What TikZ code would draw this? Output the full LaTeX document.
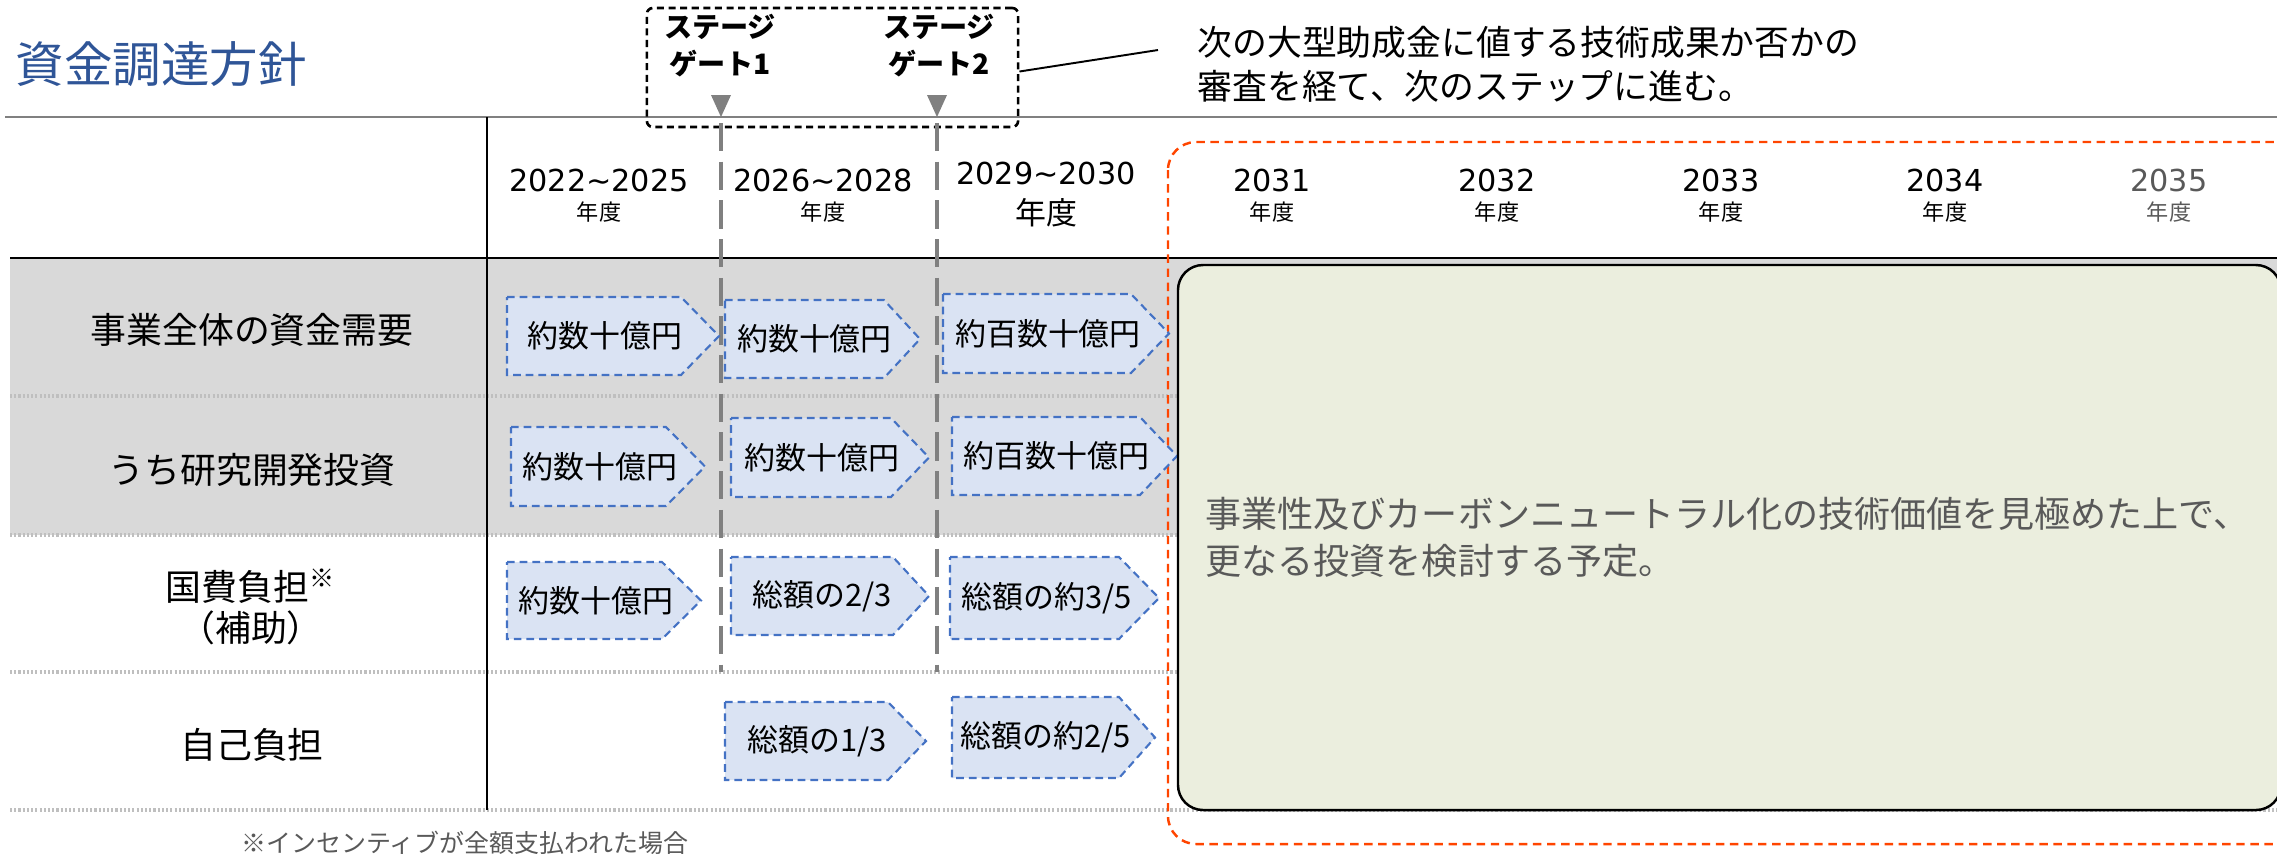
\documentclass[tikz,border=0pt]{standalone}
\usepackage{fontspec}
\setmainfont{Noto Sans CJK JP}
\newfontfamily\digitfont{DejaVu Sans}
\usetikzlibrary{calc}
\definecolor{titleblue}{RGB}{47,85,151}
\definecolor{chevfill}{RGB}{218,227,243}
\definecolor{chevline}{RGB}{68,114,196}
\definecolor{bandgray}{RGB}{217,217,217}
\definecolor{greenfill}{RGB}{235,238,222}
\definecolor{redline}{RGB}{255,69,0}
\definecolor{txtgray}{RGB}{89,89,89}
\definecolor{linegray}{RGB}{128,128,128}
\definecolor{dotgray}{RGB}{191,191,191}
\newcommand\fsz[2]{\fontsize{#1}{#2}\selectfont}
% #1 name, #2 left, #3 shoulder, #4 tip, #5 top, #6 bottom, #7 text
\newcommand\mychev[7]{%
  \draw[chevbox] (#2,#5) -- (#3,#5) -- (#4,{(#5+#6)/2}) -- (#3,#6) -- (#2,#6) -- cycle;
  \node[chevtxt] (#1) at ({(#2+#4)/2-8},{(#5+#6)/2}) {#7};}
\tikzset{
  chevbox/.style={draw=chevline, fill=chevfill, line width=0.6pt, dash pattern=on 2.2pt off 1.4pt},
  chevtxt/.style={inner sep=0pt, font=\fsz{8.8pt}{10pt}},
  rowlabel/.style={inner sep=0pt, font=\fsz{10.2pt}{11.7pt}, align=center},
  yr/.style={inner sep=0pt, font=\digitfont\fsz{8.6pt}{10pt}},
  nendo/.style={inner sep=0pt, font=\fsz{6.3pt}{7pt}},
  gatelabel/.style={inner sep=0pt, font=\bfseries\fsz{8pt}{10.5pt}, align=center},
  gateline/.style={draw=linegray, line width=1.1pt, dash pattern=on 8pt off 3pt},
  sepline/.style={draw=dotgray, line width=0.9pt, dash pattern=on 0.6pt off 0.6pt},
  gatebox/.style={draw, line width=0.75pt, dash pattern=on 2pt off 1.3pt, rounded corners=0.06cm,
    minimum width=3.71cm, minimum height=1.19cm, inner sep=0pt},
}
\begin{document}
\begin{tikzpicture}[x=0.01cm, y=-0.01cm]
\useasboundingbox (0,0) rectangle (2277,853);
% gray band
\fill[bandgray] (10,258) rectangle (2290,535);
% dotted separators
\foreach \yy in {396,535,672,810} \draw[sepline] (10,\yy) -- (2290,\yy);
% header lines
\draw[linegray, line width=0.7pt] (5,117) -- (2290,117);
\draw[line width=0.8pt] (10,258) -- (2290,258);
\draw[line width=0.6pt] (487,117) -- (487,810);
% title
\node[anchor=west, inner sep=0pt, text=titleblue, font=\fsz{13.8pt}{15pt}] (title) at (15,64) {資金調達方針};
% stage gates
\node[gatebox] (gates) at (832.5,67.5) {};
\node[gatelabel] (g1lab) at (720,46) {ステージ\\ゲート1};
\node[gatelabel] (g2lab) at (939,46) {ステージ\\ゲート2};
\coordinate (g1) at (721,117);
\coordinate (g2) at (937,117);
\fill[linegray] (711,95) -- (731,95) -- (g1) -- cycle;
\fill[linegray] (927,95) -- (947,95) -- (g2) -- cycle;
\draw[gateline] (721,123) -- (721,672);
\draw[gateline] (937,123) -- (937,672);
\coordinate (callout) at (1158,50);
\draw[line width=0.55pt] (gates.east) ++(0,4) -- (callout);
\node[anchor=west, inner sep=0pt, align=left, font=\fsz{9.9pt}{12.5pt}] (note) at (1197,64)
  {次の大型助成金に値する技術成果か否かの\\審査を経て、次のステップに進む。};
% red dashed region
\draw[redline, line width=0.7pt, dash pattern=on 2.4pt off 1.6pt, rounded corners=0.28cm] (1168,142) rectangle (2310,844);
% header years
\node[yr] (y1) at (599,180) {2022\textasciitilde2025};
\node[nendo] (n1) at (599,212) {年度};
\node[yr] (y2) at (823,180) {2026\textasciitilde2028};
\node[nendo] (n2) at (823,212) {年度};
\node[yr] (y3) at (1046,173) {2029\textasciitilde2030};
\node[inner sep=0pt, font=\fsz{8.8pt}{10pt}] (n3) at (1046,213) {年度};
\node[yr] (y4) at (1272,180) {2031};
\node[nendo] (n4) at (1272,212) {年度};
\node[yr] (y5) at (1497,180) {2032};
\node[nendo] (n5) at (1497,212) {年度};
\node[yr] (y6) at (1721,180) {2033};
\node[nendo] (n6) at (1721,212) {年度};
\node[yr] (y7) at (1945,180) {2034};
\node[nendo] (n7) at (1945,212) {年度};
\node[yr, text=txtgray] (y8) at (2169,180) {2035};
\node[nendo, text=txtgray] (n8) at (2169,212) {年度};
% row labels
\node[rowlabel] (r1) at (252,330) {事業全体の資金需要};
\node[rowlabel] (r2) at (252,470) {うち研究開発投資};
\node[rowlabel] (r3) at (251,607) {国費負担\textsuperscript{※}\\（補助）};
\node[rowlabel] (r4) at (252,745) {自己負担};
% chevrons
\mychev{a1}{507}{681}{719}{297}{375}{約数十億円}
\mychev{b1}{725}{884}{920}{300}{378}{約数十億円}
\mychev{c1}{943}{1131}{1169}{294}{373}{約百数十億円}
\mychev{a2}{511}{666}{705}{427}{506}{約数十億円}
\mychev{b2}{731}{891}{929}{418}{497}{約数十億円}
\mychev{c2}{952}{1140}{1177}{417}{495}{約百数十億円}
\mychev{a3}{507}{662}{701}{562}{639}{約数十億円}
\mychev{b3}{731}{893}{929}{557}{635}{総額の2/3}
\mychev{c3}{950}{1119}{1159}{557}{639}{総額の約3/5}
\mychev{b4}{725}{888}{926}{702}{780}{総額の1/3}
\mychev{c4}{952}{1119}{1155}{697}{778}{総額の約2/5}
% green box
\draw[fill=greenfill, line width=0.7pt, rounded corners=0.25cm] (1178,265) rectangle (2281,810);
\node[anchor=west, inner sep=0pt, align=left, text=txtgray, font=\fsz{10.25pt}{13.4pt}] (plan) at (1205,537)
  {事業性及びカーボンニュートラル化の技術価値を見極めた上で、\\更なる投資を検討する予定。};
% footnote
\node[inner sep=0pt, text=txtgray, font=\fsz{7.1pt}{8pt}] (foot) at (465,843) {※インセンティブが全額支払われた場合};
\end{tikzpicture}
\end{document}
